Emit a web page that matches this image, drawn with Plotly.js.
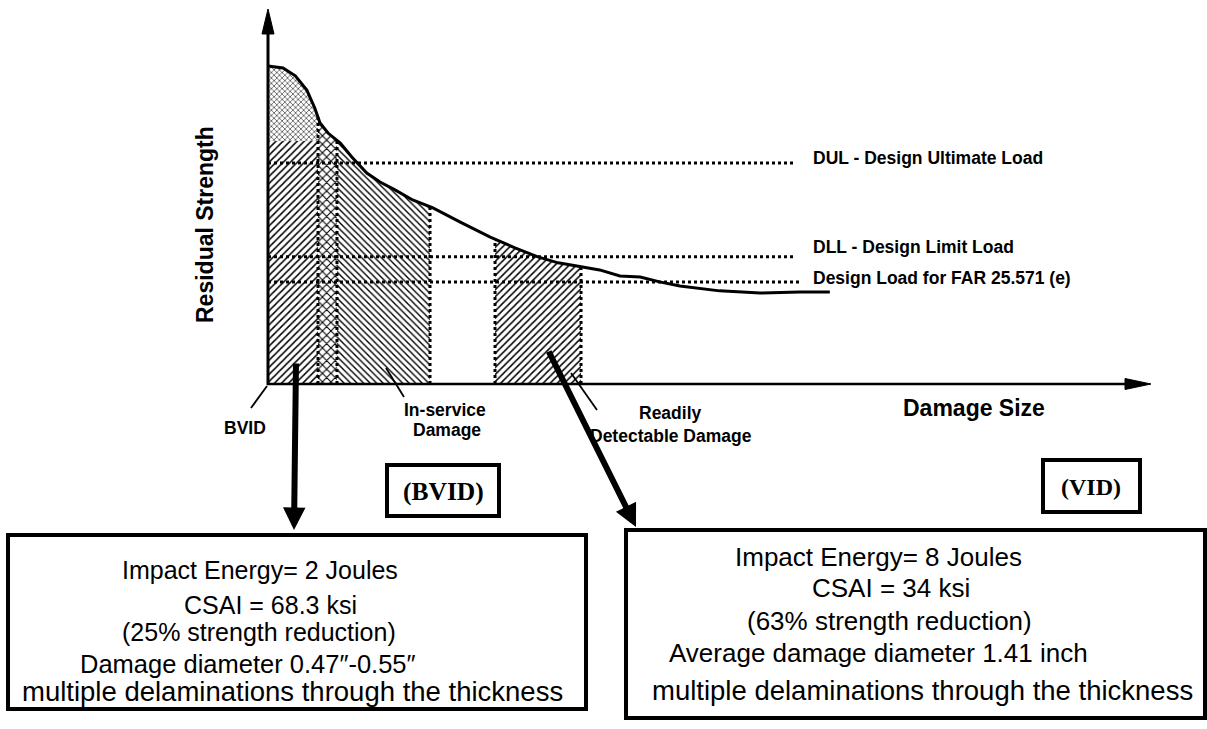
<!DOCTYPE html>
<html>
<head>
<meta charset="utf-8">
<script src="https://cdn.plot.ly/plotly-3.0.1.min.js"></script>
<style>
  html, body { margin: 0; padding: 0; background: #fff; }
  #chart { width: 1207px; height: 729px; }
</style>
</head>
<body>
<div id="chart"></div>
<script>
// ---------------- DATA ----------------
// Residual strength curve versus damage size (arbitrary units)
const damageSize = [0, 1.7, 3.1, 4.4, 5.3, 5.9, 6.8, 8.2, 9.5, 11.2, 12.7, 14.4, 16.4, 18.7, 21.8, 25.2, 28.0, 30.6, 32.9, 35.4, 37.6, 39.9, 42.2, 44.4, 46.7, 51.2, 55.8, 60.3, 63.7];
const residualStrength = [85.0, 84.5, 82.4, 78.6, 73.8, 69.8, 67.1, 64.4, 60.7, 56.4, 54.0, 51.9, 49.2, 47.1, 43.3, 39.3, 36.4, 34.0, 32.4, 31.3, 30.5, 28.9, 28.6, 27.3, 26.2, 24.9, 24.3, 24.6, 24.6];

// Design load levels
const loadNames = ['DUL - Design Ultimate Load', 'DLL - Design Limit Load', 'Design Load for FAR 25.571 (e)'];
const loadLevels = [59.1, 34.0, 27.3];
const loadLineEnd = [59.8, 59.8, 60.3];

// Damage zones (damage size bounds) and their hatch patterns
const zoneNames = ['BVID', 'BVID / In-service overlap', 'In-service Damage', 'Readily Detectable Damage'];
const zoneStart = [0, 5.67, 7.82, 25.74];
const zoneEnd = [5.67, 7.82, 18.37, 35.49];
const zoneHatch = ['/', 'x', '\\', '/'];
const bvidDenseLevel = 65.0;   // upper part of the BVID zone with the dense cross hatch

// Vertical dotted boundaries
const boundaryX = [5.67, 7.82, 18.37, 25.74, 35.49];

// Text
const axisTitleY = 'Residual Strength';
const axisTitleX = 'Damage Size';
const zoneLabels = ['BVID', 'In-service', 'Damage', 'Readily', 'Detectable Damage'];
const classLabels = ['(BVID)', '(VID)'];
const leftBoxLines = ['Impact Energy= 2 Joules', 'CSAI = 68.3 ksi', '(25% strength reduction)', 'Damage diameter 0.47″-0.55″', 'multiple delaminations through the thickness'];
const rightBoxLines = ['Impact Energy= 8 Joules', 'CSAI = 34 ksi', '(63% strength reduction)', 'Average damage diameter 1.41 inch', 'multiple delaminations through the thickness'];

// ---------------- GEOMETRY HELPERS ----------------
const W = 1207, H = 729;
// data range chosen so that the origin sits where the axes cross
const X0PX = 268, XSCALE = 8.82, Y0PX = 384, YSCALE = 3.74;
const xRange = [-X0PX / XSCALE, (W - X0PX) / XSCALE];
const yRange = [(Y0PX - H) / YSCALE, Y0PX / YSCALE];
const P = px => px / W;          // pixel x -> paper
const Q = py => 1 - py / H;      // pixel y -> paper

function curveAt(x) {
  for (let i = 0; i < damageSize.length - 1; i++) {
    if (x >= damageSize[i] && x <= damageSize[i + 1]) {
      const t = (x - damageSize[i]) / (damageSize[i + 1] - damageSize[i]);
      return residualStrength[i] + t * (residualStrength[i + 1] - residualStrength[i]);
    }
  }
  return residualStrength[residualStrength.length - 1];
}
function underCurve(a, b, bottom) {
  const xs = [a], ys = [curveAt(a)];
  damageSize.forEach((x, i) => { if (x > a && x < b) { xs.push(x); ys.push(residualStrength[i]); } });
  xs.push(b, b, a, a); ys.push(curveAt(b), bottom, bottom, curveAt(a));
  return { xs, ys };
}

// ---------------- TRACES ----------------
const traces = [];
const hatchSize = { '/': 5, '\\': 4.6, 'x': 6 };
const hatchSolid = { '/': 0.3, '\\': 0.3, 'x': 0.33 };
zoneStart.forEach((a, i) => {
  const poly = underCurve(a, zoneEnd[i], 0);
  traces.push({
    type: 'scatter', mode: 'lines', x: poly.xs, y: poly.ys, fill: 'toself',
    line: { width: 0, color: 'rgba(0,0,0,0)' }, fillcolor: 'rgba(0,0,0,0)',
    fillpattern: { shape: zoneHatch[i], size: hatchSize[zoneHatch[i]], solidity: hatchSolid[zoneHatch[i]], fgcolor: '#000', bgcolor: 'rgba(255,255,255,0)', fillmode: 'replace' },
    hoverinfo: 'skip', name: zoneNames[i]
  });
});
// dense cross hatch in the top of the BVID zone
(function () {
  const poly = underCurve(zoneStart[0], zoneEnd[0], bvidDenseLevel);
  traces.push({
    type: 'scatter', mode: 'lines', x: poly.xs, y: poly.ys, fill: 'toself',
    line: { width: 0, color: 'rgba(0,0,0,0)' }, fillcolor: '#fff',
    fillpattern: { shape: 'x', size: 3.8, solidity: 0.3, fgcolor: '#222', bgcolor: '#fff', fillmode: 'replace' },
    hoverinfo: 'skip'
  });
})();
// design load dotted lines
loadLevels.forEach((lv, i) => {
  traces.push({ type: 'scatter', mode: 'lines', x: [0, loadLineEnd[i]], y: [lv, lv],
    line: { color: '#000', width: 3, dash: 'dot' }, hoverinfo: 'skip', name: loadNames[i] });
});
// vertical zone boundaries
boundaryX.forEach(bx => {
  traces.push({ type: 'scatter', mode: 'lines', x: [bx, bx], y: [0, curveAt(bx)],
    line: { color: '#000', width: 3, dash: 'dot' }, hoverinfo: 'skip' });
});
// residual strength curve
traces.push({ type: 'scatter', mode: 'lines', x: damageSize, y: residualStrength,
  line: { color: '#000', width: 3 }, hoverinfo: 'skip', name: axisTitleY });

// ---------------- SHAPES ----------------
const shapes = [];
const pline = (x1, y1, x2, y2, w) => shapes.push({ type: 'line', xref: 'paper', yref: 'paper',
  x0: P(x1), y0: Q(y1), x1: P(x2), y1: Q(y2), line: { color: '#000', width: w } });
const ptri = (pts) => shapes.push({ type: 'path', xref: 'paper', yref: 'paper',
  path: 'M' + pts.map(p => P(p[0]) + ',' + Q(p[1])).join(' L') + ' Z', fillcolor: '#000', line: { color: '#000', width: 1 } });
const prect = (x1, y1, x2, y2, w) => shapes.push({ type: 'rect', xref: 'paper', yref: 'paper',
  x0: P(x1), y0: Q(y2), x1: P(x2), y1: Q(y1), line: { color: '#000', width: w }, fillcolor: 'rgba(0,0,0,0)' });

// axes with arrow heads
pline(268, 385, 268, 30, 3);
ptri([[268, 9], [262, 34], [274, 34]]);
pline(267, 384, 1130, 384, 2.6);
ptri([[1151, 384], [1125, 378.5], [1125, 389.5]]);
// leader lines
pline(267, 386, 251, 408, 1.8);
pline(386, 368, 404, 397, 1.8);
pline(571, 373, 597, 410, 1.8);
// boxes
prect(387, 465, 499, 516, 4);
prect(1043, 460, 1140, 512, 4);
prect(8, 535, 586, 709, 4);
prect(626, 530, 1205, 718, 4);

// ---------------- ANNOTATIONS ----------------
const SANS = 'Liberation Sans, Arial, Helvetica, sans-serif';
const SERIF = 'Liberation Serif, Times New Roman, serif';
const ann = [];
const txt = (s, x, y, size, opts) => ann.push(Object.assign({ text: s, xref: 'paper', yref: 'paper',
  x: P(x), y: Q(y), xanchor: 'center', yanchor: 'middle', showarrow: false,
  font: { family: SANS, size: size, color: '#000' } }, opts || {}));

txt('<b>' + axisTitleY + '</b>', 205, 225, 23, { textangle: -90 });
txt('<b>' + axisTitleX + '</b>', 974, 408, 23);
loadNames.forEach((n, i) => txt('<b>' + n + '</b>', 811, [158, 247, 278][i], 17.5, { xanchor: 'left' }));
const zoneLabelX = [245, 445, 447, 670, 671], zoneLabelY = [428, 410, 430, 413, 436];
zoneLabels.forEach((s, i) => txt('<b>' + s + '</b>', zoneLabelX[i], zoneLabelY[i], 17.5));
txt('<b>' + classLabels[0] + '</b>', 443, 491, 25.5, { font: { family: SERIF, size: 25.5, color: '#000' } });
txt('<b>' + classLabels[1] + '</b>', 1091, 487, 24, { font: { family: SERIF, size: 24, color: '#000' } });

const leftX = [260, 270, 259, 248, 292], leftY = [570, 605, 632, 664, 691], leftS = [25, 25, 25, 25.5, 27.5];
leftBoxLines.forEach((s, i) => txt(s, leftX[i], leftY[i], leftS[i]));
const rightX = [878, 891, 889, 879, 923], rightY = [557, 588, 621, 653, 690], rightS = [26, 26, 26, 26, 27.5];
rightBoxLines.forEach((s, i) => txt(s, rightX[i], rightY[i], rightS[i]));

// big arrows (drawn after the labels so they pass over the text)
ann.push({ xref: 'paper', yref: 'paper', x: P(294), y: Q(530), ax: 2, ay: -168, text: '', showarrow: true,
  arrowhead: 2, arrowsize: 0.75, arrowwidth: 6, arrowcolor: '#000' });
ann.push({ xref: 'paper', yref: 'paper', x: P(636), y: Q(527), ax: -88, ay: -177, text: '', showarrow: true,
  arrowhead: 2, arrowsize: 0.75, arrowwidth: 6, arrowcolor: '#000' });

const layout = {
  width: W, height: H,
  margin: { l: 0, r: 0, t: 0, b: 0 },
  paper_bgcolor: '#fff', plot_bgcolor: '#fff',
  showlegend: false,
  xaxis: { range: xRange, visible: false, fixedrange: true },
  yaxis: { range: yRange, visible: false, fixedrange: true },
  shapes: shapes,
  annotations: ann
};
Plotly.newPlot('chart', traces, layout, { displayModeBar: false, staticPlot: true });
</script>
</body>
</html>
